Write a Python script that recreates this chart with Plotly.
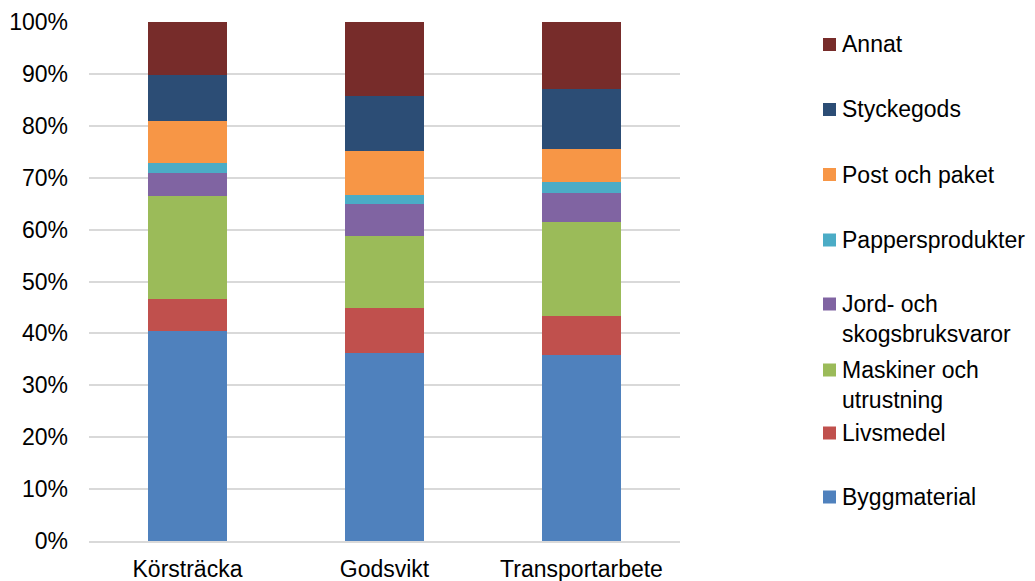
import plotly.graph_objects as go

# Share of each commodity group per measure (percent of total)
categories = ["Körsträcka", "Godsvikt", "Transportarbete"]

byggmaterial = [40.4, 36.2, 35.8]
livsmedel = [6.2, 8.6, 7.5]
maskiner = [19.9, 14.0, 18.1]
jord_skog = [4.5, 6.2, 5.6]
pappersprodukter = [1.9, 1.6, 2.1]
post_paket = [8.1, 8.5, 6.5]
styckegods = [8.7, 10.6, 11.4]
annat = [10.3, 14.3, 13.0]

y_ticks = [0, 10, 20, 30, 40, 50, 60, 70, 80, 90, 100]
y_tick_labels = [f"{v}%" for v in y_ticks]

# Stack order bottom -> top
series = [
    ("Byggmaterial", byggmaterial, "#4F81BD"),
    ("Livsmedel", livsmedel, "#C0504D"),
    ("Maskiner och<br>utrustning", maskiner, "#9BBB59"),
    ("Jord- och<br>skogsbruksvaror", jord_skog, "#8064A2"),
    ("Pappersprodukter", pappersprodukter, "#4BACC6"),
    ("Post och paket", post_paket, "#F79646"),
    ("Styckegods", styckegods, "#2C4D75"),
    ("Annat", annat, "#772C2A"),
]

W, H = 1035, 581
ML, MR, MT, MB = 89, 355, 22, 40
PW, PH = W - ML - MR, H - MT - MB
FONT = "Liberation Sans, Arial, sans-serif"
FS = 23

fig = go.Figure()
for name, vals, color in series:
    fig.add_trace(go.Bar(
        x=categories, y=vals, name=name.replace("<br>", " "),
        marker=dict(color=color, line=dict(width=0)),
        showlegend=False,
    ))


def px_x(px):
    return (px - ML) / PW


def px_y(py):
    return (H - MB - py) / PH


# Legend drawn as swatches + labels, top entry first
legend_rows = [44.5, 109.5, 174.5, 240, 304, 370, 433, 497]
shapes = []
annotations = []
for (name, _, color), cy in zip(reversed(series), legend_rows):
    shapes.append(dict(
        type="rect", xref="paper", yref="paper",
        x0=px_x(823), x1=px_x(836), y0=px_y(cy + 6.5), y1=px_y(cy - 6.5),
        fillcolor=color, line=dict(width=0),
    ))
    n_lines = name.count("<br>") + 1
    annotations.append(dict(
        xref="paper", yref="paper", x=px_x(840), y=px_y(cy + (n_lines - 1) * 14.5),
        xanchor="left", yanchor="middle", align="left", showarrow=False,
        text=name, font=dict(family=FONT, size=FS, color="#000000"),
    ))

fig.update_layout(
    barmode="stack",
    bargap=0.6,
    width=W, height=H,
    margin=dict(l=ML, r=MR, t=MT, b=MB, autoexpand=False),
    paper_bgcolor="white", plot_bgcolor="white",
    font=dict(family=FONT, size=FS, color="#000000"),
    shapes=shapes,
    annotations=annotations,
    xaxis=dict(
        showgrid=False, showline=True, linecolor="#D9D9D9", linewidth=1.5,
        ticks="", ticklabelstandoff=7, tickfont=dict(size=FS),
        automargin=False,
    ),
    yaxis=dict(
        range=[0, 100], tickmode="array", tickvals=y_ticks, ticktext=y_tick_labels,
        showgrid=True, gridcolor="#D9D9D9", gridwidth=1.5,
        zeroline=False, showline=False, ticks="",
        ticklabelstandoff=20, tickfont=dict(size=FS),
        automargin=False,
    ),
)

fig.write_html("out.html")
